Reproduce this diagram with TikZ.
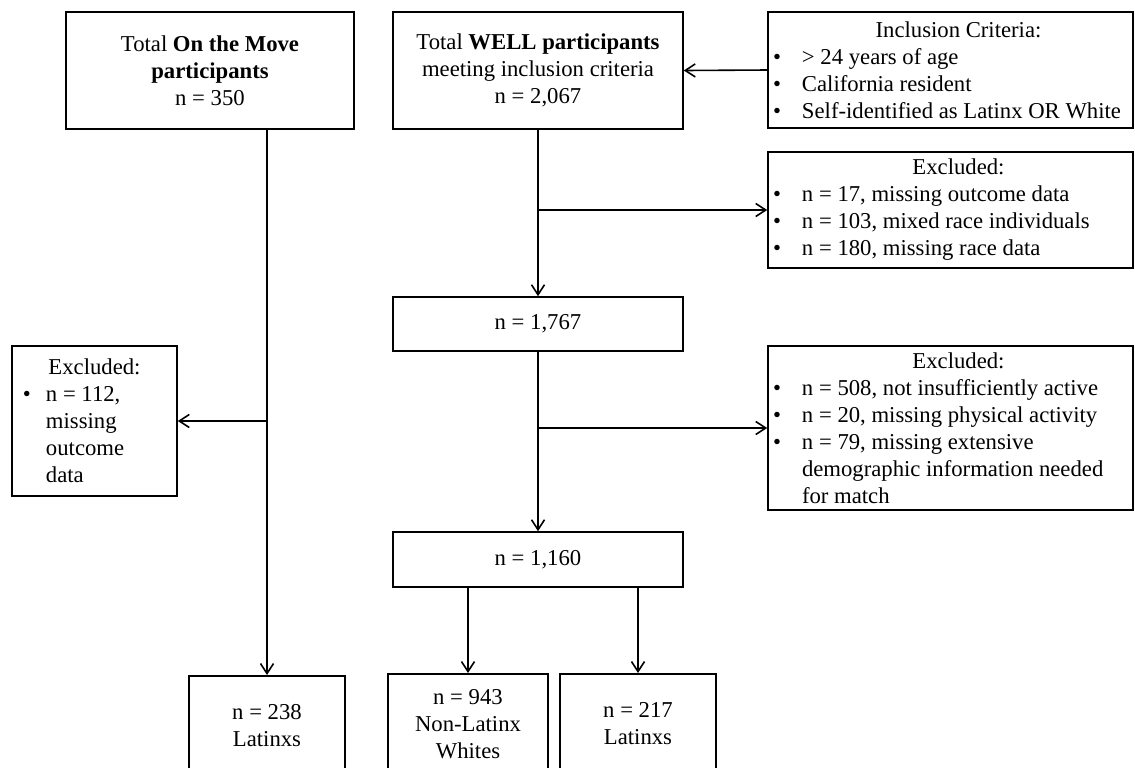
\documentclass[tikz,border=0pt]{standalone}
\usepackage{fontspec}
\setmainfont{Liberation Serif}
\usetikzlibrary{arrows.meta}
\tikzstyle{box}=[draw, rectangle, align=center, inner sep=2pt]
\tikzstyle{listbox}=[draw, rectangle, align=flush left, text width=177.5pt, inner xsep=2.5pt, inner ysep=2pt]
\tikzstyle{result}=[box, anchor=north, minimum height=50pt]
\newcommand{\bul}[1][14.5pt]{\makebox[#1][l]{\textbullet}}
\newcommand{\boxtitle}[2][8pt]{\makebox[\linewidth]{\hspace{#1}#2}}

\begin{document}
\begin{tikzpicture}[x=0.5pt, y=-0.5pt, line width=0.8pt, >={Straight Barb[length=5pt,width=6.5pt]},
  every node/.style={font=\fontsize{11.35pt}{13.5pt}\selectfont}]
\useasboundingbox (0,0) rectangle (1135,767);
% top row
\draw (210,70.5) node[box, minimum width=144pt, minimum height=58.5pt] (otm) {Total \textbf{On the Move}\\\textbf{participants}\\n = 350};
\draw (538,70.5) node[box, minimum width=145pt, minimum height=58.5pt] (well) {Total \textbf{WELL participants}\\meeting inclusion criteria\\n = 2,067};
\draw (950.5,70) node[listbox, minimum height=58pt] (incl) {\boxtitle{Inclusion Criteria:}\\ \bul > 24 years of age\\ \bul California resident\\ \bul\mbox{Self-identified as Latinx OR White}};
% exclusions
\draw (950.5,210) node[listbox, minimum height=58pt] (exwell) {\boxtitle{Excluded:}\\ \bul n = 17, missing outcome data\\ \bul n = 103, mixed race individuals\\ \bul n = 180, missing race data};
\draw (94.5,421) node[listbox, text width=71.5pt, inner xsep=5.5pt, minimum height=75pt] (exotm) {\boxtitle[0pt]{Excluded:}\\ \bul[11.5pt]n = 112,\\ \hspace*{11.5pt}missing\\ \hspace*{11.5pt}outcome\\ \hspace*{11.5pt}data};
\draw (950.5,428) node[listbox, minimum height=82pt] (exmatch) {\boxtitle{Excluded:}\\ \bul n = 508, not insufficiently active\\ \bul n = 20, missing physical activity\\ \bul n = 79, missing extensive\\ \hspace*{14.5pt}demographic information needed\\ \hspace*{14.5pt}for match};
% counts
\draw (538,324) node[box, minimum width=145pt, minimum height=27pt] (n1767) {n = 1,767};
\draw (538,559.5) node[box, minimum width=145pt, minimum height=27.5pt] (n1160) {n = 1,160};
% final samples
\draw (267,675) node[result, minimum width=78pt] (lat238) {n = 238\\Latinxs};
\draw (468,673) node[result, minimum width=80pt] (nlw943) {n = 943\\Non-Latinx\\Whites};
\draw (638,673) node[result, minimum width=78pt] (lat217) {n = 217\\Latinxs};

\draw[->] (incl.west) -- (well.east);
\draw[->] (otm.south -| lat238.north) -- (lat238.north);
\draw[->] (exotm.east -| lat238.north) -- (exotm.east);
\draw[->] (well) -- (n1767);
\draw[->] (well.south |- exwell.west) -- (exwell.west);
\draw[->] (n1767) -- (n1160);
\draw[->] (n1767.south |- exmatch.west) -- (exmatch.west);
\draw[->] (n1160.south -| nlw943.north) -- (nlw943.north);
\draw[->] (n1160.south -| lat217.north) -- (lat217.north);
\end{tikzpicture}
\end{document}
